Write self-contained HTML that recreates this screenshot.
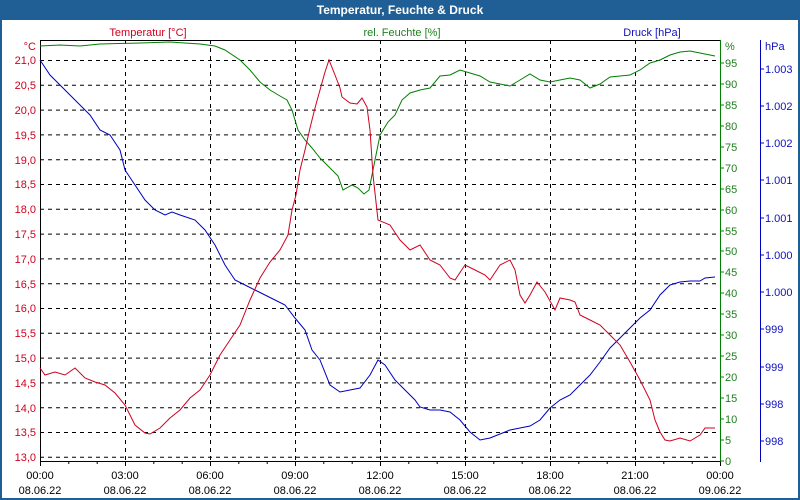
<!DOCTYPE html>
<html><head><meta charset="utf-8"><style>
html,body{margin:0;padding:0;background:#fff}
svg{display:block;font-family:"Liberation Sans","DejaVu Sans",sans-serif}
</style></head><body>
<svg width="800" height="500" viewBox="0 0 800 500" xmlns="http://www.w3.org/2000/svg">
<rect x="0" y="0" width="800" height="500" fill="#1f5f96"/>
<rect x="2" y="20" width="796" height="478" fill="#fff"/>
<text x="400" y="14" fill="#fff" font-size="12" font-weight="bold" text-anchor="middle">Temperatur, Feuchte &amp; Druck</text>
<text x="148" y="36" fill="#d00020" font-size="11" text-anchor="middle">Temperatur [°C]</text>
<text x="402" y="36" fill="#208020" font-size="11" text-anchor="middle">rel. Feuchte [%]</text>
<text x="652" y="36" fill="#1010c0" font-size="11" text-anchor="middle">Druck [hPa]</text>
<g stroke="#000" stroke-dasharray="4,4" stroke-width="1">
<line x1="40" x2="720" y1="60.5" y2="60.5"/><line x1="40" x2="720" y1="85.3" y2="85.3"/><line x1="40" x2="720" y1="110.1" y2="110.1"/><line x1="40" x2="720" y1="134.9" y2="134.9"/><line x1="40" x2="720" y1="159.7" y2="159.7"/><line x1="40" x2="720" y1="184.5" y2="184.5"/><line x1="40" x2="720" y1="209.3" y2="209.3"/><line x1="40" x2="720" y1="234.1" y2="234.1"/><line x1="40" x2="720" y1="258.9" y2="258.9"/><line x1="40" x2="720" y1="283.7" y2="283.7"/><line x1="40" x2="720" y1="308.5" y2="308.5"/><line x1="40" x2="720" y1="333.3" y2="333.3"/><line x1="40" x2="720" y1="358.1" y2="358.1"/><line x1="40" x2="720" y1="382.9" y2="382.9"/><line x1="40" x2="720" y1="407.7" y2="407.7"/><line x1="40" x2="720" y1="432.5" y2="432.5"/><line x1="40" x2="720" y1="457.3" y2="457.3"/>
<line y1="40" y2="461" x1="125.5" x2="125.5"/><line y1="40" y2="461" x1="210.5" x2="210.5"/><line y1="40" y2="461" x1="295.5" x2="295.5"/><line y1="40" y2="461" x1="380.5" x2="380.5"/><line y1="40" y2="461" x1="465.5" x2="465.5"/><line y1="40" y2="461" x1="550.5" x2="550.5"/><line y1="40" y2="461" x1="635.5" x2="635.5"/>
</g>
<line x1="40" x2="720" y1="40.5" y2="40.5" stroke="#000"/>
<line x1="40" x2="720" y1="461.5" y2="461.5" stroke="#000"/>
<line x1="40.5" x2="40.5" y1="40" y2="462" stroke="#000"/>
<line x1="720.5" x2="720.5" y1="40" y2="462" stroke="#008000"/>
<line x1="760.5" x2="760.5" y1="40" y2="462" stroke="#0000c0"/>
<g stroke="#000">
<line x1="40.5" x2="40.5" y1="461" y2="466"/><line x1="68.8" x2="68.8" y1="461" y2="464"/><line x1="97.2" x2="97.2" y1="461" y2="464"/><line x1="125.5" x2="125.5" y1="461" y2="466"/><line x1="153.8" x2="153.8" y1="461" y2="464"/><line x1="182.2" x2="182.2" y1="461" y2="464"/><line x1="210.5" x2="210.5" y1="461" y2="466"/><line x1="238.8" x2="238.8" y1="461" y2="464"/><line x1="267.2" x2="267.2" y1="461" y2="464"/><line x1="295.5" x2="295.5" y1="461" y2="466"/><line x1="323.8" x2="323.8" y1="461" y2="464"/><line x1="352.2" x2="352.2" y1="461" y2="464"/><line x1="380.5" x2="380.5" y1="461" y2="466"/><line x1="408.8" x2="408.8" y1="461" y2="464"/><line x1="437.2" x2="437.2" y1="461" y2="464"/><line x1="465.5" x2="465.5" y1="461" y2="466"/><line x1="493.8" x2="493.8" y1="461" y2="464"/><line x1="522.2" x2="522.2" y1="461" y2="464"/><line x1="550.5" x2="550.5" y1="461" y2="466"/><line x1="578.8" x2="578.8" y1="461" y2="464"/><line x1="607.2" x2="607.2" y1="461" y2="464"/><line x1="635.5" x2="635.5" y1="461" y2="466"/><line x1="663.8" x2="663.8" y1="461" y2="464"/><line x1="692.2" x2="692.2" y1="461" y2="464"/><line x1="720.5" x2="720.5" y1="461" y2="466"/>
</g>
<g font-size="11" fill="#000" text-anchor="middle">
<text x="40" y="479">00:00</text><text x="40" y="494">08.06.22</text>
<text x="125" y="479">03:00</text><text x="125" y="494">08.06.22</text>
<text x="210" y="479">06:00</text><text x="210" y="494">08.06.22</text>
<text x="295" y="479">09:00</text><text x="295" y="494">08.06.22</text>
<text x="380" y="479">12:00</text><text x="380" y="494">08.06.22</text>
<text x="465" y="479">15:00</text><text x="465" y="494">08.06.22</text>
<text x="550" y="479">18:00</text><text x="550" y="494">08.06.22</text>
<text x="635" y="479">21:00</text><text x="635" y="494">08.06.22</text>
<text x="720" y="479">00:00</text><text x="720" y="494">09.06.22</text>
</g>
<g font-size="11" fill="#d00020" text-anchor="end">
<text x="36" y="50">°C</text>
<text x="36" y="64">21,0</text><text x="36" y="89">20,5</text><text x="36" y="114">20,0</text><text x="36" y="139">19,5</text><text x="36" y="164">19,0</text><text x="36" y="188">18,5</text><text x="36" y="213">18,0</text><text x="36" y="238">17,5</text><text x="36" y="263">17,0</text><text x="36" y="288">16,5</text><text x="36" y="312">16,0</text><text x="36" y="337">15,5</text><text x="36" y="362">15,0</text><text x="36" y="387">14,5</text><text x="36" y="412">14,0</text><text x="36" y="436">13,5</text><text x="36" y="461">13,0</text>
</g>
<g stroke="#008000">
<line x1="720" x2="724" y1="63" y2="63"/><line x1="720" x2="724" y1="84" y2="84"/><line x1="720" x2="724" y1="105" y2="105"/><line x1="720" x2="724" y1="126" y2="126"/><line x1="720" x2="724" y1="147" y2="147"/><line x1="720" x2="724" y1="168" y2="168"/><line x1="720" x2="724" y1="189" y2="189"/><line x1="720" x2="724" y1="210" y2="210"/><line x1="720" x2="724" y1="231" y2="231"/><line x1="720" x2="724" y1="251" y2="251"/><line x1="720" x2="724" y1="272" y2="272"/><line x1="720" x2="724" y1="293" y2="293"/><line x1="720" x2="724" y1="314" y2="314"/><line x1="720" x2="724" y1="335" y2="335"/><line x1="720" x2="724" y1="356" y2="356"/><line x1="720" x2="724" y1="377" y2="377"/><line x1="720" x2="724" y1="398" y2="398"/><line x1="720" x2="724" y1="419" y2="419"/><line x1="720" x2="724" y1="440" y2="440"/><line x1="720" x2="724" y1="461" y2="461"/>
</g>
<g font-size="11" fill="#208020">
<text x="725" y="50">%</text>
<text x="725" y="67">95</text><text x="725" y="88">90</text><text x="725" y="109">85</text><text x="725" y="130">80</text><text x="725" y="151">75</text><text x="725" y="172">70</text><text x="725" y="193">65</text><text x="725" y="214">60</text><text x="725" y="235">55</text><text x="725" y="255">50</text><text x="725" y="276">45</text><text x="725" y="297">40</text><text x="725" y="318">35</text><text x="725" y="339">30</text><text x="725" y="360">25</text><text x="725" y="381">20</text><text x="725" y="402">15</text><text x="725" y="423">10</text><text x="725" y="444">5</text><text x="725" y="465">0</text>
</g>
<g stroke="#0000c0">
<line x1="760" x2="764" y1="69" y2="69"/><line x1="760" x2="764" y1="106" y2="106"/><line x1="760" x2="764" y1="143" y2="143"/><line x1="760" x2="764" y1="180" y2="180"/><line x1="760" x2="764" y1="218" y2="218"/><line x1="760" x2="764" y1="255" y2="255"/><line x1="760" x2="764" y1="292" y2="292"/><line x1="760" x2="764" y1="329" y2="329"/><line x1="760" x2="764" y1="367" y2="367"/><line x1="760" x2="764" y1="404" y2="404"/><line x1="760" x2="764" y1="441" y2="441"/>
</g>
<g font-size="11" fill="#1010c0">
<text x="765" y="50">hPa</text>
<text x="765" y="73">1.003</text><text x="765" y="110">1.002</text><text x="765" y="147">1.002</text><text x="765" y="184">1.001</text><text x="765" y="222">1.001</text><text x="765" y="259">1.000</text><text x="765" y="296">1.000</text><text x="765" y="333">999</text><text x="765" y="371">999</text><text x="765" y="408">998</text><text x="765" y="445">998</text>
</g>
<polyline fill="none" stroke="#008000" stroke-width="1" points="40,46 60,45 80,46 100,44 140,43 170,42 200,44 215,46 225,50 240,60 250,70 260,82 270,90 280,96 287,100 292,110 298,130 305,140 312,148 320,158 330,168 338,176 343,190 352,185 358,188 364,194 369,190 373,170 380,135 388,122 395,115 402,100 410,93 420,90 430,88 440,76 450,75 460,70 470,73 480,76 490,82 500,84 510,86 520,80 530,74 540,80 550,82 560,80 570,78 580,80 590,88 600,84 610,77 620,76 630,75 640,70 650,63 660,60 670,55 680,52 690,51 700,53 710,55 715,56"/>
<polyline fill="none" stroke="#0000c0" stroke-width="1" points="40,60 50,75 60,85 70,95 80,105 90,115 100,130 110,135 120,150 125,170 135,185 145,200 155,210 165,215 172,212 180,215 195,220 205,230 215,245 225,265 235,280 245,285 255,290 265,295 275,300 285,305 295,318 305,330 312,350 320,360 330,385 340,392 350,390 360,388 370,375 378,360 385,365 395,380 405,390 415,400 420,407 430,410 440,410 450,412 460,420 470,432 480,440 490,438 500,434 510,430 520,428 530,426 540,420 550,408 560,400 570,395 580,385 590,375 600,362 610,348 620,338 630,328 640,318 650,310 660,295 670,285 680,282 690,281 700,281 705,278 715,277"/>
<polyline fill="none" stroke="#d00020" stroke-width="1" points="40,368 45,375 55,372 65,375 75,368 85,378 95,382 105,385 115,393 125,405 135,425 145,433 150,434 160,428 170,418 180,410 190,398 200,390 210,375 220,355 230,340 240,325 250,300 260,278 270,262 280,250 288,235 292,210 296,195 300,170 305,150 310,128 315,108 320,90 325,72 329,60 335,75 340,88 342,97 350,103 357,104 362,98 367,107 370,130 373,175 378,220 390,225 400,240 410,250 420,245 430,260 440,265 450,278 455,280 465,265 475,270 485,275 490,280 500,265 510,260 515,270 520,295 525,303 530,295 537,282 545,292 555,310 560,298 570,300 575,302 580,315 590,320 600,325 610,335 620,345 630,362 640,380 650,400 655,420 660,432 665,440 670,441 680,438 690,441 700,435 705,428 715,428"/>
</svg>
</body></html>
